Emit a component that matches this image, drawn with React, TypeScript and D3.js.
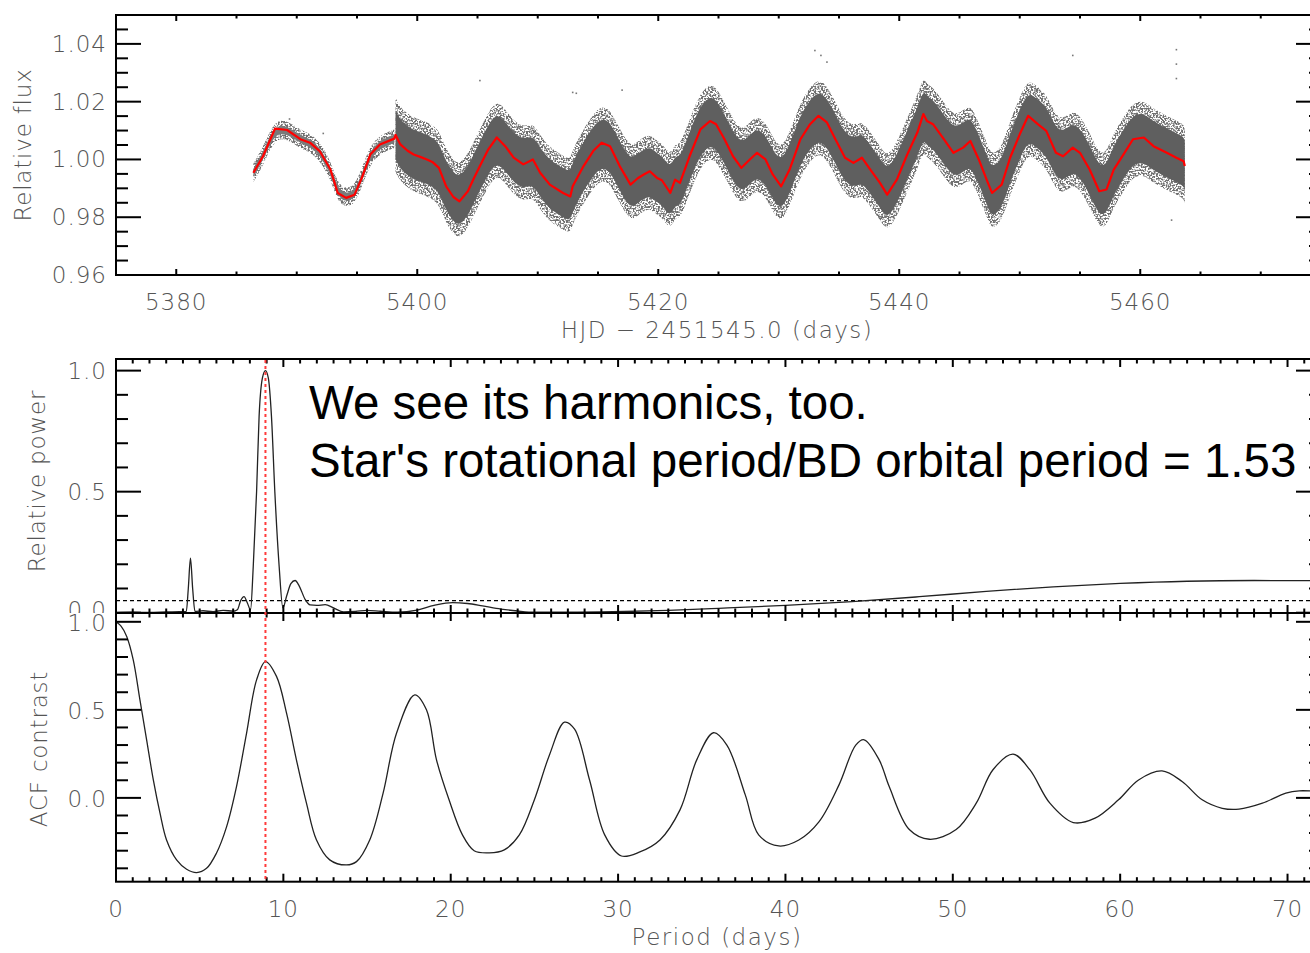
import React from "react";
import * as d3 from "d3";

// ---------- DATA ----------
// Smoothed light curve (red): [HJD-2451545, relative flux]
const lightCurve: [number, number][] = [
  [5386.4, 0.9954], [5387.2, 1.0011], [5388.2, 1.0107], [5389.2, 1.0102], [5390.3, 1.007],
  [5391.1, 1.0058], [5391.9, 1.0029], [5392.8, 0.9965], [5393.4, 0.9884], [5394.1, 0.9867],
  [5394.8, 0.9878], [5395.4, 0.9936], [5396.1, 1.0017], [5396.9, 1.0052], [5398.1, 1.0072],
  [5398.2, 1.0085], [5398.6, 1.0052], [5399.2, 1.003], [5399.7, 1.0017], [5400.3, 1.0008],
  [5400.8, 1.0], [5401.3, 0.999], [5401.8, 0.9971], [5402.4, 0.9907], [5403.0, 0.987],
  [5403.5, 0.9855], [5404.2, 0.989], [5404.7, 0.9935], [5405.2, 0.9977], [5405.9, 1.0035],
  [5406.6, 1.0076], [5407.3, 1.0046], [5408.0, 1.0006], [5408.8, 0.9983], [5409.6, 1.0],
  [5410.2, 0.9954], [5411.0, 0.9913], [5412.1, 0.9884], [5412.7, 0.9872], [5412.9, 0.9907],
  [5413.8, 0.9977], [5414.6, 1.0029], [5415.3, 1.0058], [5416.0, 1.0046], [5416.8, 0.9977],
  [5417.7, 0.9913], [5418.3, 0.9935], [5418.8, 0.9948], [5419.3, 0.9959], [5419.9, 0.9936],
  [5420.3, 0.9928], [5421.0, 0.9884], [5421.4, 0.993], [5421.8, 0.9919], [5422.6, 1.0011],
  [5423.5, 1.0104], [5424.3, 1.0133], [5424.8, 1.0122], [5425.5, 1.007], [5426.2, 1.0011],
  [5426.9, 0.9971], [5427.6, 1.0], [5428.2, 1.0023], [5428.9, 1.0], [5429.5, 0.9948],
  [5430.2, 0.9907], [5430.9, 0.9965], [5431.8, 1.007], [5432.6, 1.0122], [5433.3, 1.0151],
  [5434.0, 1.0128], [5434.7, 1.007], [5435.5, 1.0006], [5436.2, 0.9988], [5436.9, 1.0006],
  [5437.6, 0.9965], [5438.4, 0.9919], [5439.0, 0.9878], [5439.8, 0.993], [5440.6, 1.0011],
  [5441.5, 1.0093], [5442.0, 1.0157], [5442.3, 1.0133], [5442.8, 1.0122], [5443.7, 1.007],
  [5444.5, 1.0023], [5445.3, 1.0041], [5445.9, 1.0064], [5446.6, 1.0], [5447.3, 0.9925],
  [5447.7, 0.9884], [5448.5, 0.9913], [5449.2, 1.0006], [5450.0, 1.0087], [5450.7, 1.0151],
  [5451.5, 1.0122], [5452.2, 1.0099], [5453.0, 1.0023], [5453.6, 1.0011], [5454.4, 1.0041],
  [5455.0, 1.0023], [5455.8, 0.9965], [5456.6, 0.989], [5457.2, 0.9896], [5457.8, 0.9965],
  [5458.6, 1.0017], [5459.4, 1.007], [5460.3, 1.0076], [5461.1, 1.0046], [5462.2, 1.0023],
  [5463.0, 1.0006], [5463.6, 0.9994], [5463.7, 0.9977],
];

// Width of the raw-photometry scatter around the smoothed curve
const scatterSegments = [
  { start: 5386.3, end: 5398.15, core: 0.0014, edge: 0.0032 },
  { start: 5398.2, end: 5463.75, core: 0.0085, edge: 0.0128 },
];

// Isolated outlying photometric points
const outliers: [number, number][] = [
  [5405.2, 1.0273], [5412.9, 1.0232], [5413.2, 1.0229], [5433.0, 1.0377], [5434.0, 1.0337],
  [5433.5, 1.036], [5454.4, 1.036], [5463.0, 1.038], [5463.0, 1.033], [5463.0, 1.028],
  [5462.6, 0.979], [5417.0, 1.024], [5392.2, 1.009], [5389.4, 1.014],
];

// Periodogram: [period (days), relative power]
const periodogram: [number, number][] = [
  [0, 0.0], [1, 0.002], [2, 0.001], [3, 0.003], [3.8, 0.004], [4.2, 0.005], [4.32, 0.1],
  [4.45, 0.225], [4.58, 0.1], [4.72, 0.005], [5.2, 0.008], [5.8, 0.004], [6.4, 0.01],
  [7.0, 0.006], [7.25, 0.012], [7.45, 0.05], [7.65, 0.066], [7.85, 0.04], [8.04, 0.012],
  [8.2, 0.19], [8.4, 0.5], [8.55, 0.81], [8.75, 0.97], [8.93, 1.0], [9.1, 0.97],
  [9.29, 0.81], [9.49, 0.5], [9.75, 0.19], [9.97, 0.02], [10.2, 0.07], [10.45, 0.12],
  [10.7, 0.133], [10.95, 0.11], [11.3, 0.055], [11.6, 0.032], [12.0, 0.03], [12.5, 0.033],
  [13.0, 0.02], [13.6, 0.003], [14.3, 0.005], [15.0, 0.01], [15.8, 0.006], [16.8, 0.002],
  [18.0, 0.011], [19.0, 0.03], [20.1, 0.042], [21.0, 0.038], [21.9, 0.028], [23.0, 0.015],
  [24.0, 0.007], [25.0, 0.002], [27.0, 0.002], [29.7, 0.004], [33, 0.01], [36, 0.018],
  [40, 0.03], [44, 0.046], [48, 0.066], [52, 0.088], [56, 0.107], [60, 0.121], [64, 0.13],
  [68, 0.133], [72, 0.132],
];

// Autocorrelation function: [period (days), ACF contrast]
const acf: [number, number][] = [
  [0, 1.0], [0.3, 0.975], [0.64, 0.917], [1.03, 0.784], [1.43, 0.557], [1.83, 0.33],
  [2.23, 0.102], [2.63, -0.087], [3.02, -0.239], [3.62, -0.352], [4.22, -0.405],
  [4.82, -0.424], [5.41, -0.4], [6.0, -0.314], [6.61, -0.163], [7.2, 0.064], [7.8, 0.367],
  [8.4, 0.67], [8.93, 0.774], [9.59, 0.69], [10.19, 0.481], [10.78, 0.216], [11.38, -0.03],
  [11.98, -0.239], [12.77, -0.352], [13.77, -0.381], [14.37, -0.362], [15.16, -0.239],
  [15.96, 0.027], [16.76, 0.367], [17.85, 0.585], [18.55, 0.5], [19.15, 0.216],
  [19.9, -0.011], [20.7, -0.21], [21.4, -0.3], [22.3, -0.312], [23.2, -0.295], [24.1, -0.21],
  [25.0, -0.01], [25.9, 0.244], [26.8, 0.43], [27.4, 0.39], [28.3, 0.1], [29.2, -0.21],
  [30.2, -0.33], [31.3, -0.307], [32.5, -0.239], [33.7, -0.068], [34.7, 0.216], [35.7, 0.37],
  [36.5, 0.3], [37.6, 0.017], [38.4, -0.21], [39.6, -0.273], [40.8, -0.239], [42.0, -0.136],
  [43.2, 0.074], [44.2, 0.3], [44.7, 0.33], [45.6, 0.216], [46.2, 0.064], [47.4, -0.18],
  [48.6, -0.235], [50.2, -0.18], [51.4, -0.03], [52.4, 0.16], [53.6, 0.248], [54.6, 0.16],
  [55.8, -0.03], [57.2, -0.14], [58.5, -0.115], [59.9, -0.011], [61.1, 0.102], [62.5, 0.153],
  [63.7, 0.093], [64.9, -0.011], [66.1, -0.059], [67.1, -0.064], [68.5, -0.03], [69.9, 0.027],
  [70.7, 0.04], [72, 0.035],
];

const falseAlarmLevel = 0.05;
const rotationPeriod = 8.93;

const hjdMajorTicks = [5380, 5400, 5420, 5440, 5460];
const fluxMajorTicks = [0.96, 0.98, 1.0, 1.02, 1.04];
const periodMajorTicks = [0, 10, 20, 30, 40, 50, 60, 70];
const powerMajorTicks = [0, 0.5, 1.0];
const acfMajorTicks = [0, 0.5, 1.0];

const annotationLines = [
  "We see its harmonics, too.",
  "Star's rotational period/BD orbital period = 1.53",
];

// ---------- LAYOUT ----------
const W = 1310;
const H = 953;
const L = 116;
const R = 1321;
const top1 = 15, bot1 = 275;
const top2 = 359, bot2 = 613;
const top3 = 613, bot3 = 881.7;

const xHjd = d3.scaleLinear().domain([5375, 5475]).range([L, R]);
const yFlux = d3.scaleLinear().domain([0.96, 1.05]).range([bot1, top1]);
const xPer = d3.scaleLinear().domain([0, 72]).range([L, R]);
const yPow = d3.scaleLinear().domain([0, 1.048]).range([612.7, top2]);
const yAcf = d3.scaleLinear().domain([-0.476, 1.05]).range([bot3, top3]);

const tickFont = "'DejaVu Sans', sans-serif";
const tickColor = "#555";

function rangeStep(a: number, b: number, s: number) {
  const out: number[] = [];
  const n = Math.round((b - a) / s);
  for (let i = 0; i <= n; i++) out.push(+(a + i * s).toFixed(6));
  return out;
}

type Frame = {
  x: d3.ScaleLinear<number, number>;
  y: d3.ScaleLinear<number, number>;
  y0: number; y1: number;
  xMajor: number[]; xMinor: number[];
  yMajor: number[]; yMinor: number[];
  xMaj: number; xMin: number;
};

function Ticks({ f }: { f: Frame }) {
  const els: React.ReactNode[] = [];
  const yMaj = 25, yMin = 12;
  f.xMinor.forEach((v, i) => {
    const px = f.x(v);
    if (px < L || px > R) return;
    const len = f.xMajor.some((m) => Math.abs(m - v) < 1e-6) ? f.xMaj : f.xMin;
    els.push(<line key={"xb" + i} x1={px} x2={px} y1={f.y1} y2={f.y1 - len} />);
    els.push(<line key={"xt" + i} x1={px} x2={px} y1={f.y0} y2={f.y0 + len} />);
  });
  f.yMinor.forEach((v, i) => {
    const py = f.y(v);
    if (py < f.y0 - 0.5 || py > f.y1 + 0.5) return;
    const len = f.yMajor.some((m) => Math.abs(m - v) < 1e-6) ? yMaj : yMin;
    els.push(<line key={"yl" + i} x1={L} x2={L + len} y1={py} y2={py} />);
    els.push(<line key={"yr" + i} x1={R} x2={R - len} y1={py} y2={py} />);
  });
  return (
    <g stroke="#000" strokeWidth={2}>
      {els}
      <rect x={L} y={f.y0} width={R - L} height={f.y1 - f.y0} fill="none" />
    </g>
  );
}

export default function App() {
  const redLine = d3
    .line<[number, number]>()
    .x((d) => xHjd(d[0]))
    .y((d) => yFlux(d[1]))
    .curve(d3.curveLinear);

  const bands = scatterSegments.map((s) => {
    const pts = lightCurve.filter((d) => d[0] >= s.start - 0.01 && d[0] <= s.end + 0.01);
    const outer = d3
      .area<[number, number]>()
      .x((d) => xHjd(d[0]))
      .y0((d) => yFlux(d[1] - s.edge))
      .y1((d) => yFlux(d[1] + s.edge))
      .curve(d3.curveBasis)(pts);
    const core = d3
      .area<[number, number]>()
      .x((d) => xHjd(d[0]))
      .y0((d) => yFlux(d[1] - s.core))
      .y1((d) => yFlux(d[1] + s.core))
      .curve(d3.curveBasis)(pts);
    return { outer, core, dense: s.core > 0.005 };
  });

  const powLine = d3
    .line<[number, number]>()
    .x((d) => xPer(d[0]))
    .y((d) => yPow(Math.max(0, d[1])))
    .curve(d3.curveMonotoneX)(periodogram);

  const acfLine = d3
    .line<[number, number]>()
    .x((d) => xPer(d[0]))
    .y((d) => yAcf(d[1]))
    .curve(d3.curveCatmullRom.alpha(0.5))(acf);

  const topFrame: Frame = {
    x: xHjd, y: yFlux, y0: top1, y1: bot1,
    xMajor: hjdMajorTicks, xMinor: rangeStep(5375, 5475, 5),
    yMajor: fluxMajorTicks, yMinor: rangeStep(0.96, 1.05, 0.005),
    xMaj: 6, xMin: 3.5,
  };
  const powFrame: Frame = {
    x: xPer, y: yPow, y0: top2, y1: bot2,
    xMajor: periodMajorTicks, xMinor: rangeStep(0, 72, 1),
    yMajor: powerMajorTicks, yMinor: rangeStep(0, 1.0, 0.1),
    xMaj: 8, xMin: 4.5,
  };
  const acfFrame: Frame = {
    x: xPer, y: yAcf, y0: top3, y1: bot3,
    xMajor: periodMajorTicks, xMinor: rangeStep(0, 72, 1),
    yMajor: acfMajorTicks, yMinor: rangeStep(-0.4, 1.0, 0.1),
    xMaj: 8, xMin: 4.5,
  };

  const fmt2 = d3.format(".2f");
  const fmt1 = d3.format(".1f");

  return (
    <svg
      width={W}
      height={H}
      viewBox={`0 0 ${W} ${H}`}
      style={{ position: "absolute", left: 0, top: 0, background: "#fff" }}
    >
      <defs>
        <filter id="speckle" filterUnits="userSpaceOnUse" x={0} y={0} width={W} height={H}>
          <feTurbulence type="fractalNoise" baseFrequency="0.6" numOctaves={1} seed={7} result="noise" />
          <feColorMatrix
            in="noise"
            type="matrix"
            values="0 0 0 0 0  0 0 0 0 0  0 0 0 0 0  7 0 0 0 -3.0"
            result="mask"
          />
          <feComposite in="SourceGraphic" in2="mask" operator="in" />
        </filter>
        <clipPath id="clipTop">
          <rect x={L} y={top1} width={R - L} height={bot1 - top1} />
        </clipPath>
        <clipPath id="clipPow">
          <rect x={L} y={top2} width={R - L} height={bot2 - top2} />
        </clipPath>
        <clipPath id="clipAcf">
          <rect x={L} y={top3} width={R - L} height={bot3 - top3} />
        </clipPath>
        <clipPath id="clipPowLabels">
          <rect x={0} y={top2 - 20} width={L} height={bot2 - top2 + 20} />
        </clipPath>
      </defs>

      {/* ---------- Panel 1: light curve ---------- */}
      <g clipPath="url(#clipTop)">
        {bands.map((b, i) => (
          <g key={i}>
            <path d={b.outer ?? ""} fill="#707070" filter="url(#speckle)" />
            <path d={b.core ?? ""} fill={b.dense ? "#5f5f5f" : "#7a7a7a"} />
          </g>
        ))}
        {outliers.map((d, i) => (
          <rect key={i} x={xHjd(d[0]) - 0.8} y={yFlux(d[1]) - 0.8} width={1.6} height={1.6} fill="#777" />
        ))}
        <path d={redLine(lightCurve) ?? ""} fill="none" stroke="#ff0000" strokeWidth={2.2} strokeLinejoin="round" />
      </g>
      <Ticks f={topFrame} />
      <g fontFamily={tickFont} fontSize={23} fill={tickColor} fontWeight={300}>
        {hjdMajorTicks.map((v) => (
          <text key={v} x={xHjd(v)} y={310} textAnchor="middle" letterSpacing={1}>
            {v}
          </text>
        ))}
        {fluxMajorTicks.map((v) => (
          <text key={v} x={107} y={yFlux(v) + 8} textAnchor="end" letterSpacing={1}>
            {fmt2(v)}
          </text>
        ))}
        <text transform="translate(31,145) rotate(-90)" textAnchor="middle" letterSpacing={0.8}>
          Relative flux
        </text>
        <text x={717} y={338} textAnchor="middle" letterSpacing={1.5}>
          HJD − 2451545.0 (days)
        </text>
      </g>

      {/* ---------- Panel 2: periodogram ---------- */}
      <g clipPath="url(#clipPow)">
        <line
          x1={L} x2={R} y1={yPow(falseAlarmLevel)} y2={yPow(falseAlarmLevel)}
          stroke="#000" strokeWidth={1.2} strokeDasharray="4,3"
        />
        <path d={powLine ?? ""} fill="none" stroke="#222" strokeWidth={1.3} />
      </g>
      <Ticks f={powFrame} />
      <g fontFamily={tickFont} fontSize={23} fill={tickColor} fontWeight={300}>
        <g clipPath="url(#clipPowLabels)">
          {powerMajorTicks.map((v) => (
            <text key={v} x={107} y={v === 0 ? 618 : yPow(v) + 8} textAnchor="end" letterSpacing={1}>
              {fmt1(v)}
            </text>
          ))}
        </g>
        <text transform="translate(45,481) rotate(-90)" textAnchor="middle" letterSpacing={0.8}>
          Relative power
        </text>
      </g>

      {/* ---------- Panel 3: ACF ---------- */}
      <g clipPath="url(#clipAcf)">
        <path d={acfLine ?? ""} fill="none" stroke="#222" strokeWidth={1.3} />
      </g>
      <Ticks f={acfFrame} />
      <g fontFamily={tickFont} fontSize={23} fill={tickColor} fontWeight={300}>
        {acfMajorTicks.map((v) => (
          <text key={v} x={107} y={yAcf(v) + 9} textAnchor="end" letterSpacing={1}>
            {fmt1(v)}
          </text>
        ))}
        {periodMajorTicks.map((v) => (
          <text key={v} x={xPer(v)} y={917} textAnchor="middle" letterSpacing={1}>
            {v}
          </text>
        ))}
        <text transform="translate(47,749) rotate(-90)" textAnchor="middle" letterSpacing={0.8}>
          ACF contrast
        </text>
        <text x={717} y={945} textAnchor="middle" letterSpacing={1.5}>
          Period (days)
        </text>
      </g>

      {/* rotation period marker */}
      <line
        x1={xPer(rotationPeriod)} x2={xPer(rotationPeriod)} y1={top2 + 1} y2={bot3 - 1}
        stroke="#ff3b3b" strokeWidth={2} strokeDasharray="3,3"
      />

      {/* annotation */}
      <g fontFamily="'Liberation Sans', Arial, sans-serif" fontSize={47.5} fill="#000">
        {annotationLines.map((t, i) => (
          <text key={i} x={309} y={419 + i * 58}>
            {t}
          </text>
        ))}
      </g>
    </svg>
  );
}
